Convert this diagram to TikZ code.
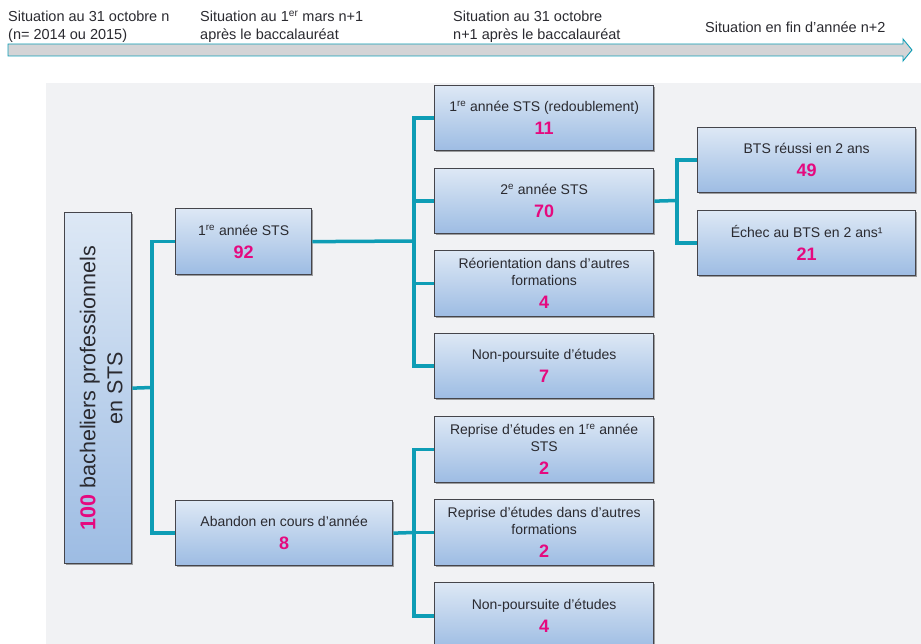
\documentclass[tikz,border=0pt]{standalone}
\usepackage{fontspec}
\setmainfont{Liberation Sans}
\usetikzlibrary{shadows}
\definecolor{conn}{HTML}{0E9DB5}
\definecolor{bggray}{HTML}{F1F2F4}
\definecolor{boxline}{HTML}{45454B}
\definecolor{boxtop}{HTML}{DDE8F5}
\definecolor{boxbot}{HTML}{9DBCE3}
\definecolor{num}{HTML}{E5097F}
\definecolor{txt}{HTML}{2A2A30}
\definecolor{arrowfill}{HTML}{D4D4D6}
\tikzset{
  box/.style={draw=boxline, line width=1.3pt, top color=boxtop, bottom color=boxbot,
    drop shadow={shadow xshift=1.5pt, shadow yshift=-1.5pt, opacity=0.35, fill=black},
    inner sep=0pt, align=center, anchor=north west, text=txt,
    font=\fontsize{14}{17}\selectfont},
  conn/.style={draw=conn, line width=3.5pt, line join=miter},
  toplabel/.style={anchor=west, align=left, text=txt, font=\fontsize{14.5}{18}\selectfont, inner sep=0pt},
}
\newcommand{\nb}[1]{\\[6pt]{\fontsize{18}{19}\selectfont\bfseries\color{num}#1}}
\begin{document}
\begin{tikzpicture}[x=1pt,y=-1pt]
\useasboundingbox (0,0) rectangle (921,644);
% background
\fill[bggray] (46,83) rectangle (921,644);
% time arrow
\draw[fill=arrowfill, draw=conn, line width=0.9pt, line join=miter]
  (8,44) -- (903,44) -- (903,39) -- (912,50) -- (903,61) -- (903,56) -- (8,56) -- cycle;
\node[toplabel] (t1) at (8,27) {Situation au 31 octobre n\\(n= 2014 ou 2015)};
\node[toplabel] (t2) at (200,27) {Situation au 1\textsuperscript{er} mars n+1\\après le baccalauréat};
\node[toplabel] (t3) at (453,27) {Situation au 31 octobre\\n+1 après le baccalauréat};
\node[toplabel] (t4) at (705,27) {Situation en fin d’année n+2};
% root box
\node[box, minimum width=67pt, minimum height=351pt] (root) at (64,212) {};
\node[rotate=90, align=center, text=txt, font=\fontsize{21.5}{27}\selectfont] (roottext) at ([xshift=3pt]root.center)
  {{\bfseries\color{num}100} bacheliers professionnels\\en STS};
% level 2
\node[box, minimum width=136pt, minimum height=66pt] (a1) at (175,208) {1\textsuperscript{re} année STS\nb{92}};
\node[box, minimum width=217pt, minimum height=65pt] (a2) at (175,500) {Abandon en cours d’année\nb{8}};
% level 3
\node[box, minimum width=219pt, minimum height=65pt] (b1) at (434,85) {1\textsuperscript{re} année STS (redoublement)\nb{11}};
\node[box, minimum width=219pt, minimum height=65pt] (b2) at (434,168) {2\textsuperscript{e} année STS\nb{70}};
\node[box, minimum width=219pt, minimum height=66pt] (b3) at (434,250) {Réorientation dans d’autres\\formations\nb{4}};
\node[box, minimum width=219pt, minimum height=65pt] (b4) at (434,333) {Non-poursuite d’études\nb{7}};
\node[box, minimum width=219pt, minimum height=66pt] (d1) at (434,416) {Reprise d’études en 1\textsuperscript{re} année\\STS\nb{2}};
\node[box, minimum width=219pt, minimum height=66pt] (d2) at (434,499) {Reprise d’études dans d’autres\\formations\nb{2}};
\node[box, minimum width=219pt, minimum height=67pt] (d3) at (434,582) {Non-poursuite d’études\nb{4}};
% level 4
\node[box, minimum width=218pt, minimum height=65pt] (c1) at (697,127) {BTS réussi en 2 ans\nb{49}};
\node[box, minimum width=218pt, minimum height=65pt] (c2) at (697,210) {Échec au BTS en 2 ans¹\nb{21}};
% connectors
\coordinate (j1) at (152,387.5);
\draw[conn] (root.east) -- (j1);
\draw[conn] (a1.west) -| (j1) |- (a2.west);
\coordinate (j2) at (414,241);
\draw[conn] (a1.east) -- (j2);
\draw[conn] (b1.west) -| (j2) |- (b4.west);
\draw[conn] (j2 |- b2.west) -- (b2.west);
\draw[conn] (j2 |- b3.west) -- (b3.west);
\coordinate (j3) at (677,200.5);
\draw[conn] (b2.east) -- (j3);
\draw[conn] (c1.west) -| (j3) |- (c2.west);
\coordinate (j4) at (414,532.5);
\draw[conn] (a2.east) -- (j4);
\draw[conn] (d1.west) -| (j4) |- (d3.west);
\draw[conn] (j4 |- d2.west) -- (d2.west);
\end{tikzpicture}
\end{document}
